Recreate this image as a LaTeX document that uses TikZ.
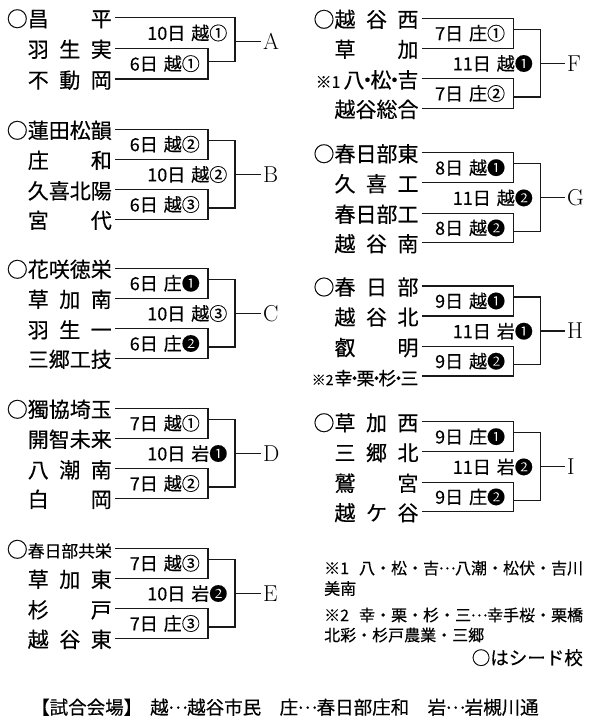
\documentclass[tikz,border=0pt]{standalone}
\usepackage{fontspec}
\newfontfamily\jp{Noto Sans CJK JP}[FakeBold=0.35]
\newcommand\nmb[1]{\makebox[84bp][s]{#1}}
\newcommand\md{\makebox[6bp]{・}}
\newcommand\mdd{\makebox[4bp]{・}}
\newcommand\el{\makebox[1em][c]{\raisebox{0.3em}{…}}}
\newcommand\lb[2]{#1\hspace{6bp}#2}
\tikzset{
 ln/.style={line width=1.2bp, draw=black!90},
 nm/.style={font=\jp\fontsize{21bp}{21bp}\selectfont, anchor=east, inner xsep=3bp, inner ysep=0pt, text height=20bp, text depth=2bp},
 lab/.style={font=\jp\fontsize{18bp}{18bp}\selectfont, anchor=east, inner sep=0pt, text height=15.6bp, text depth=2bp},
 grp/.style={font=\fontsize{23bp}{23bp}\selectfont, anchor=west, inner xsep=2bp, inner ysep=0pt},
 note/.style={font=\jp\fontsize{16bp}{16bp}\selectfont, anchor=west, inner sep=0pt, text height=14.2bp, text depth=2bp},
}
% teams: prefix, Y, NX, four names
\newcommand\teams[7]{%
 \node[nm] (#1n1) at (#3,#2) {#4};
 \node[nm] (#1n2) at (#3,#2+30) {#5};
 \node[nm] (#1n3) at (#3,#2+60.5) {#6};
 \node[nm] (#1n4) at (#3,#2+90) {#7};}
% bracket: prefix, Y, VA, VB, VC, label1, label2, label3, letter
\newcommand\brk[9]{%
 \coordinate (#1a) at (#3,#2);
 \coordinate (#1b) at (#4,#2);
 \coordinate (#1o1) at (#3,#2+11);
 \coordinate (#1o2) at (#3,#2+78.7);
 \draw[ln] (#1n1.east) -- (#1n1.east -| #1a) -- (#1n2.east -| #1a) -- (#1n2.east);
 \draw[ln] (#1n3.east) -- (#1n3.east -| #1a) -- (#1n4.east -| #1a) -- (#1n4.east);
 \draw[ln] (#1o1) -- (#1o1 -| #1b) -- (#1o2 -| #1b) -- (#1o2);
 \node[grp] (#1L) at (#5,#2+45) {#9};
 \draw[ln] (#1L.west -| #1b) -- (#1L.west);
 \node[lab] (#1l1) at (#3-8,#2+15) {#6};
 \node[lab] (#1l2) at (#4-7.5,#2+45.25) {#7};
 \node[lab] (#1l3) at (#3-8,#2+75.25) {#8};}
\begin{document}
\begin{tikzpicture}[x=1bp,y=-1bp]
\fill[white] (0,0) rectangle (600,727);
\path[use as bounding box] (0,0) rectangle (600,727);

% ---- Group A
\node[nm] (an1) at (115,17.7) {○\nmb{昌\hfill 平}};
\node[nm] (an2) at (115,48.3) {\nmb{羽\hfill 生\hfill 実}};
\node[nm] (an3) at (115,79) {\nmb{不\hfill 動\hfill 岡}};
\coordinate (aa) at (208,0);
\coordinate (ab) at (235,0);
\coordinate (ao) at (208,61.7);
\draw[ln] (an2.east) -- (an2.east -| aa) -- (an3.east -| aa) -- (an3.east);
\draw[ln] (an1.east) -- (an1.east -| ab) -- (ao -| ab) -- (ao);
\node[grp] (aL) at (261,41.7) {A};
\draw[ln] (aL.west -| ab) -- (aL.west);
\node[lab] (al1) at (227.5,33) {\lb{10日}{越①}};
\node[lab] (al2) at (200,63.7) {\lb{6日}{越①}};

% ---- Group B
\teams{b}{129.3}{115}{○\nmb{蓮\hfill 田\hfill 松\hfill 韻}}{\nmb{庄\hfill 和}}{\nmb{久\hfill 喜\hfill 北\hfill 陽}}{\nmb{宮\hfill 代}}
\brk{b}{129.3}{208}{235}{261}{\lb{6日}{越②}}{\lb{10日}{越②}}{\lb{6日}{越③}}{B}

% ---- Group C
\teams{c}{268.3}{115}{○\nmb{花\hfill 咲\hfill 徳\hfill 栄}}{\nmb{草\hfill 加\hfill 南}}{\nmb{羽\hfill 生\hfill 一}}{\nmb{三\hfill 郷\hfill 工\hfill 技}}
\brk{c}{268.3}{208}{235}{261}{\lb{6日}{庄❶}}{\lb{10日}{越③}}{\lb{6日}{庄❷}}{C}

% ---- Group D
\teams{d}{408.3}{115}{○\nmb{獨\hfill 協\hfill 埼\hfill 玉}}{\nmb{開\hfill 智\hfill 未\hfill 来}}{\nmb{八\hfill 潮\hfill 南}}{\nmb{白\hfill 岡}}
\brk{d}{408.3}{208}{235}{261}{\lb{7日}{越①}}{\lb{10日}{岩❶}}{\lb{7日}{越②}}{D}

% ---- Group E
\teams{e}{548.3}{115}{○\nmb{\fontsize{16.8bp}{17bp}\selectfont 春\hfill 日\hfill 部\hfill 共\hfill 栄}}{\nmb{草\hfill 加\hfill 東}}{\nmb{杉\hfill 戸}}{\nmb{越\hfill 谷\hfill 東}}
\brk{e}{548.3}{208}{235}{261}{\lb{7日}{越③}}{\lb{10日}{岩❷}}{\lb{7日}{庄③}}{E}

% ---- Group F
\teams{f}{18.3}{421.7}{○\nmb{越\hfill 谷\hfill 西}}{\nmb{草\hfill 加}}{{\fontsize{16bp}{16bp}\selectfont ※1}\hspace{3bp}八\md 松\md 吉}{\nmb{越\hfill 谷\hfill 総\hfill 合}}
\brk{f}{18.3}{513.3}{540.5}{565}{\lb{7日}{庄①}}{\lb{11日}{越❶}}{\lb{7日}{庄②}}{F}

% ---- Group G
\teams{g}{152.7}{421.7}{○\nmb{春\hfill 日\hfill 部\hfill 東}}{\nmb{久\hfill 喜\hfill 工}}{\nmb{春\hfill 日\hfill 部\hfill 工}}{\nmb{越\hfill 谷\hfill 南}}
\brk{g}{152.7}{513.3}{540.5}{565}{\lb{8日}{越❶}}{\lb{11日}{越❷}}{\lb{8日}{越❷}}{G}

% ---- Group H
\teams{h}{286}{421.7}{○\nmb{春\hfill 日\hfill 部}}{\nmb{越\hfill 谷\hfill 北}}{\nmb{叡\hfill 明}}{{\fontsize{14bp}{14bp}\selectfont ※2}\hspace{1bp}{\fontsize{18bp}{18bp}\selectfont 幸\mdd 栗\mdd 杉\mdd 三}}
\brk{h}{286}{513.3}{540.5}{565}{\lb{9日}{越❶}}{\lb{11日}{岩❶}}{\lb{9日}{越❷}}{H}

% ---- Group I
\teams{i}{421.7}{421.7}{○\nmb{草\hfill 加\hfill 西}}{\nmb{三\hfill 郷\hfill 北}}{\nmb{鷲\hfill 宮}}{\nmb{越\hfill ケ\hfill 谷}}
\brk{i}{421.7}{513.3}{540.5}{565}{\lb{9日}{庄❶}}{\lb{11日}{岩❷}}{\lb{9日}{庄❷}}{I}

% ---- Notes
\node[note] (nt1) at (324,568) {※1\hspace{10bp}八・松・吉\el 八潮・松伏・吉川};
\node[note] (nt2) at (324,588.5) {美南};
\node[note] (nt3) at (324,615) {※2\hspace{10bp}幸・栗・杉・三\el 幸手桜・栗橋};
\node[note] (nt4) at (324,635) {北彩・杉戸農業・三郷};
\node[note, anchor=east, font=\jp\fontsize{18.5bp}{18.5bp}\selectfont, text height=16.4bp] (nt5) at (583,657.5) {○はシード校};
\node[note, font=\jp\fontsize{18.5bp}{18.5bp}\selectfont, text height=16.5bp] (foot) at (31,707) {【試合会場】\hspace{8bp}越\el 越谷市民　庄\el 春日部庄和　岩\el 岩槻川通};
\end{tikzpicture}
\end{document}
